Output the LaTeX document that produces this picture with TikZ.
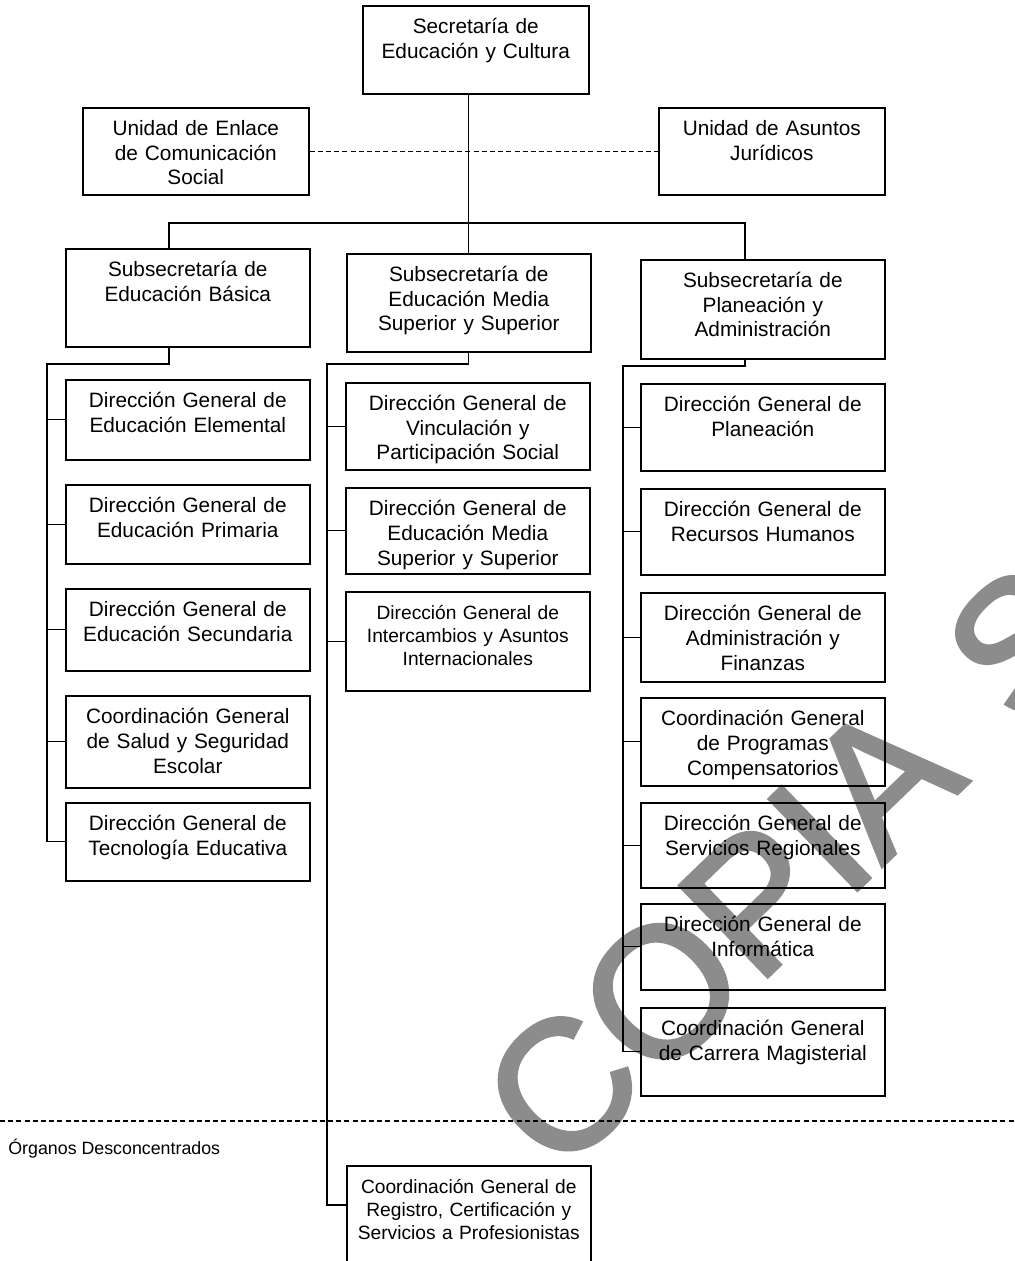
\documentclass[tikz,border=0pt]{standalone}
\usepackage{fontspec}
\setmainfont{Liberation Sans}
\newfontfamily\marcafont[FakeBold=2]{Liberation Sans}
\usetikzlibrary{positioning}

\tikzset{
    orgbox/.style={
        rectangle, anchor=north west,
        draw=black, line width=0.8pt,
        align=center, inner xsep=2pt, inner ysep=3pt,
        text height=11pt, text depth=#1,
        font=\fontsize{10.4}{12.3}\selectfont,
    },
    orgbox/.default=26.5pt,
    widebox/.style={text width=118pt},
    narrowbox/.style={text width=109pt},
    smalltext/.style={font=\fontsize{9.6}{11.5}\selectfont},
    link/.style={line width=0.6pt},
    dashlink/.style={line width=0.6pt, dash pattern=on 2.5pt off 1.6pt},
}

\begin{document}
\begin{tikzpicture}[x=0.5pt, y=-0.5pt]
    \useasboundingbox (0,0) rectangle (1014,1261);

    \node (marca) at(790,867) [
        rotate=44, inner sep=0pt,
        text=black!45,
        font=\marcafont\fontsize{92}{92}\selectfont,
    ] {COPIA\hspace{10pt} S};

    \node (sec) at(362,5) [orgbox=27pt, narrowbox] {Secretaría de\\Educación y Cultura};
    \node (uenl) at(82,107) [orgbox, narrowbox] {Unidad de Enlace\\de Comunicación\\Social};
    \node (ujur) at(658,107) [orgbox, narrowbox] {Unidad de Asuntos\\Jurídicos};

    \node (subeb) at(65,248) [orgbox=32pt, widebox] {Subsecretaría de\\Educación Básica};
    \node (subms) at(346,253) [orgbox=32pt, widebox] {Subsecretaría de\\Educación Media\\Superior y Superior};
    \node (subpa) at(640,259) [orgbox=32.5pt, widebox] {Subsecretaría de\\Planeación y\\Administración};

    \node (dgeel) at(65,379) [orgbox=23pt, widebox] {Dirección General de\\Educación Elemental};
    \node (dgepr) at(65,484) [orgbox=22.5pt, widebox] {Dirección General de\\Educación Primaria};
    \node (dgese) at(65,588) [orgbox=24pt, widebox] {Dirección General de\\Educación Secundaria};
    \node (cgsal) at(65,695) [orgbox=29pt, widebox] {Coordinación General\\de Salud y Seguridad\\Escolar};
    \node (dgtec) at(65,802) [orgbox=22pt, widebox] {Dirección General de\\Tecnología Educativa};

    \node (dgvin) at(345,382) [orgbox, widebox] {Dirección General de\\Vinculación y\\Participación Social};
    \node (dgems) at(345,487) [orgbox=26pt, widebox] {Dirección General de\\Educación Media\\Superior y Superior};
    \node (dgint) at(345,591) [orgbox=32.5pt, widebox, smalltext] {Dirección General de\\Intercambios y Asuntos\\Internacionales};
    \node (cgreg) at(346,1165) [orgbox=45pt, widebox, smalltext] {Coordinación General de\\Registro, Certificación y\\Servicios a Profesionistas};

    \node (dgpla) at(640,383) [orgbox, widebox] {Dirección General de\\Planeación};
    \node (dgrhu) at(640,488) [orgbox=26pt, widebox] {Dirección General de\\Recursos Humanos};
    \node (dgadm) at(640,592) [orgbox=27.5pt, widebox] {Dirección General de\\Administración y\\Finanzas};
    \node (cgpro) at(640,697) [orgbox=27pt, widebox] {Coordinación General\\de Programas\\Compensatorios};
    \node (dgser) at(640,802) [orgbox=25.5pt, widebox] {Dirección General de\\Servicios Regionales};
    \node (dginf) at(640,903) [orgbox=26pt, widebox] {Dirección General de\\Informática};
    \node (cgcar) at(640,1007) [orgbox=27pt, widebox] {Coordinación General\\de Carrera Magisterial};

    \node (desc) at(8,1154) [
        anchor=base west, inner sep=0pt,
        font=\fontsize{8.9}{10}\selectfont,
    ] {Órganos Desconcentrados};

    \coordinate (ramaA) at(169,223);
    \coordinate (ramaC) at(745,223);
    \coordinate (ejeA) at(47,364);
    \coordinate (ejeB) at(327,364);
    \coordinate (ejeC) at(623,366);
    \coordinate (enganche) at(346,1205);
    \coordinate (corteI) at(0,1121);
    \coordinate (corteD) at(1014,1121);

    \draw [link] (sec.south -| subms.north) -- (subms.north);
    \draw [link] (ramaA |- subeb.north) -- (ramaA) -- (ramaC) -- (ramaC |- subpa.north);
    \draw [dashlink] (uenl.east) -- (ujur.west);

    \draw [link] (ramaA |- subeb.south) |- (ejeA) -- (ejeA |- dgtec.west) -- (dgtec.west);
    \foreach \n in {dgeel, dgepr, dgese, cgsal}
        \draw [link] (ejeA |- \n.west) -- (\n.west);

    \draw [link] (subms.south) |- (ejeB) -- (ejeB |- enganche) -- (enganche);
    \foreach \n in {dgvin, dgems, dgint}
        \draw [link] (ejeB |- \n.west) -- (\n.west);

    \draw [link] (ramaC |- subpa.south) |- (ejeC) -- (ejeC |- cgcar.west) -- (cgcar.west);
    \foreach \n in {dgpla, dgrhu, dgadm, cgpro, dgser, dginf}
        \draw [link] (ejeC |- \n.west) -- (\n.west);

    \draw [dashlink] (corteI) -- (corteD);
\end{tikzpicture}
\end{document}
